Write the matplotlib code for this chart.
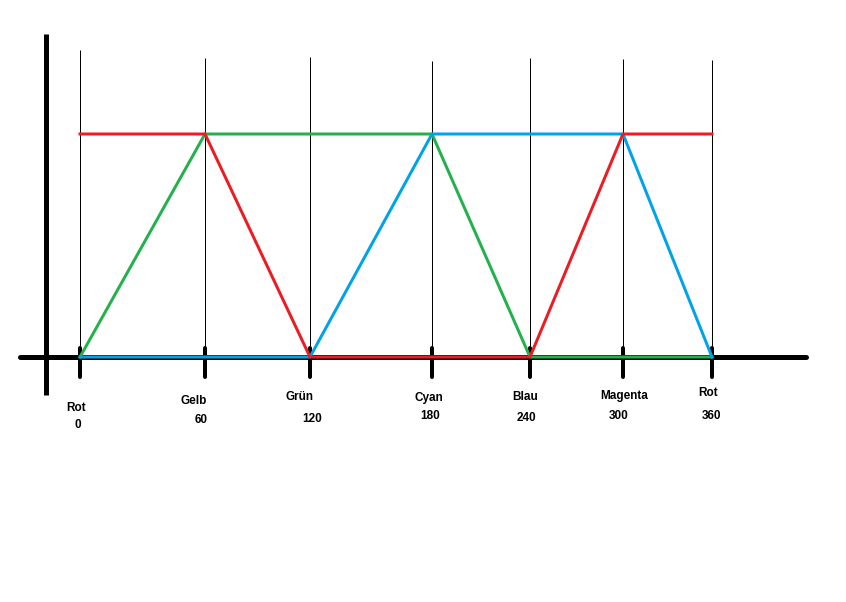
import matplotlib
matplotlib.use("Agg")
import matplotlib.pyplot as plt
import numpy as np

# hue -> RGB channel levels (0..1)
hues = [0, 60, 120, 180, 240, 300, 360]
names = ["Rot", "Gelb", "Grün", "Cyan", "Blau", "Magenta", "Rot"]
red = [1, 1, 0, 0, 0, 1, 1]
green = [0, 1, 1, 1, 0, 0, 0]
blue = [0, 0, 0, 1, 1, 1, 0]

# the sketch has uneven spacing between hue marks -> piecewise scale (pixels)
_h = [-100, 0, 60, 120, 180, 240, 300, 360, 500]
_px = [80 - 100 * 125 / 60, 80, 205, 310, 432, 530, 623, 712, 712 + 140 * 89 / 60]


def fwd(x):
    return np.interp(x, _h, _px)


def inv(x):
    return np.interp(x, _px, _h)


W, H = 846, 602
y0, unit = 357, 223  # pixel row of value 0, pixels per unit


def py(row):
    return (y0 - row) / unit


fig = plt.figure(figsize=(W / 100, H / 100), dpi=100)
ax = fig.add_axes([0, 0, 1, 1])
ax.set_xscale("function", functions=(fwd, inv))
ax.set_xlim(inv(0), inv(W))
ax.set_ylim(py(H), py(0))
ax.axis("off")

px = 72 / 100  # one pixel in points

# axes
ax.plot([20 / W, 806 / W], [0, 0], color="black", lw=5 * px,
        solid_capstyle="round", transform=ax.get_yaxis_transform(), zorder=2)
ax.plot([46 / W, 46 / W], [1 - 34 / H, 1 - 395 / H], color="black", lw=5 * px,
        solid_capstyle="butt", transform=ax.transAxes, zorder=2)

# thin guides and tick marks
tops = [50, 58, 57, 61, 58, 59, 60]
ax.vlines(hues, 0, [py(t) for t in tops], color="black", lw=1 * px, zorder=1)
for h in hues:
    ax.plot([h, h], [py(377), py(348)], color="black", lw=4 * px,
            solid_capstyle="round", zorder=2)

ax.plot(hues, green, color="#22b14c", lw=3 * px, zorder=3)
ax.plot(hues, blue, color="#00a2e8", lw=3 * px, zorder=4)
ax.plot(hues, red, color="#ed1c24", lw=3 * px, zorder=5)

# labels
name_dx = [-4, -11, -10, -3, -5, 1, -4]
name_row = [408, 401, 397, 398, 397, 396, 393]
num_dx = [-2, -4, 2, -2, -4, -4, 0]
num_row = [425, 420, 419, 416, 418, 416, 416]
for h, n, ndx, nr, mdx, mr in zip(hues, names, name_dx, name_row, num_dx, num_row):
    ax.text(inv(fwd(h) + ndx), py(nr), n, ha="center", va="center",
            fontsize=8.5, fontweight="bold", family="Liberation Sans")
    ax.text(inv(fwd(h) + mdx), py(mr), str(h), ha="center", va="center",
            fontsize=8.5, fontweight="bold", family="Liberation Sans")

fig.savefig("out.png", dpi=100)
